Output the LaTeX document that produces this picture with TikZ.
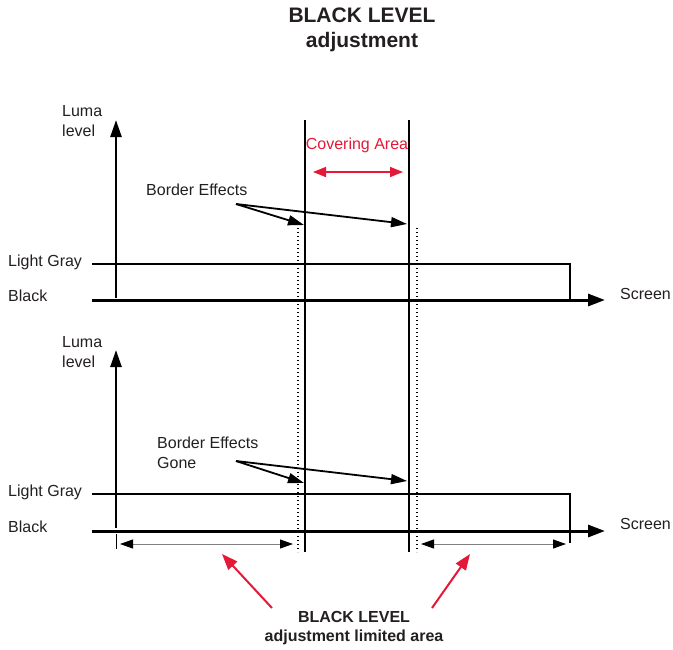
\documentclass[tikz,border=0pt]{standalone}
\usepackage{fontspec}
\setmainfont{Liberation Sans}
\usetikzlibrary{arrows.meta}
\definecolor{txt}{HTML}{231F20}
\definecolor{redc}{HTML}{E31937}
\begin{document}
\begin{tikzpicture}[x=1pt,y=-1pt,
  lbl/.style={font=\fontsize{16}{20}\selectfont, text=txt, inner sep=0pt, anchor=west, align=left},
  ttl/.style={font=\fontsize{21}{25}\selectfont\bfseries, text=txt, inner sep=0pt, align=center},
  btxt/.style={font=\fontsize{16}{19}\selectfont\bfseries, text=txt, inner sep=0pt, align=center},
  haxis/.style={line width=3pt, -{Triangle[length=17pt,width=12pt]}},
  vaxis/.style={line width=2.5pt, -{Triangle[length=17pt,width=11pt]}},
  gline/.style={line width=1.8pt},
  vline/.style={line width=1.3pt},
  dline/.style={line width=1.1pt, dash pattern=on 1.2pt off 2.8pt},
  ptr/.style={line width=1.8pt, -{Triangle[length=16pt,width=10pt]}},
  rng/.style={line width=1pt, draw=gray, {Triangle[length=13pt,width=9pt,color=black]}-{Triangle[length=13pt,width=9pt,color=black]}},
  redptr/.style={line width=2pt, draw=redc, -{Triangle[length=16pt,width=12pt]}},
  reddbl/.style={line width=1.5pt, draw=redc, {Triangle[length=13pt,width=10pt]}-{Triangle[length=13pt,width=10pt]}},
]
\useasboundingbox (0,0) rectangle (673,649);

% Title
\node[ttl] (title) at (362,30) {BLACK LEVEL\\adjustment};

% ---------- top diagram ----------
\coordinate (tA0) at (92,300);
\coordinate (tA1) at (605,300);
\coordinate (tY0) at (116,298);
\coordinate (tY1) at (116,120);
\coordinate (tG0) at (92,264);
\coordinate (tG1) at (570,264);
\coordinate (tG2) at (570,300);

\node[lbl] (tluma) at (62,121) {Luma\\level};
\node[lbl] (tgray) at (8,262) {Light Gray};
\node[lbl] (tblack) at (8,296) {Black};
\node[lbl] (tscreen) at (620,294) {Screen};

\draw[gline] (tG0) -- (tG1) -- (tG2);
\draw[haxis] (tA0) -- (tA1);
\draw[vaxis] (tY0) -- (tY1);

% vertical lines through both diagrams
\coordinate (vL0) at (305,120); \coordinate (vL1) at (305,552);
\coordinate (vR0) at (409,120); \coordinate (vR1) at (409,552);
\coordinate (dL0) at (298,228); \coordinate (dL1) at (298,552);
\coordinate (dR0) at (417,228); \coordinate (dR1) at (417,552);
\draw[vline] (vL0) -- (vL1);
\draw[vline] (vR0) -- (vR1);
\draw[dline] (dL0) -- (dL1);
\draw[dline] (dR0) -- (dR1);

% covering area
\node[lbl, anchor=center, text=redc] (cover) at (357,145) {Covering Area};
\coordinate (cA0) at (313,172); \coordinate (cA1) at (403,172);
\draw[reddbl] (cA0) -- (cA1);

% border effects
\node[lbl] (be1) at (146,190) {Border Effects};
\coordinate (be1s) at (236,204);
\coordinate (be1a) at (304,225);
\coordinate (be1b) at (407,224);
\draw[ptr] (be1s) -- (be1a);
\draw[ptr] (be1s) -- (be1b);

% ---------- bottom diagram ----------
\coordinate (bA0) at (92,531);
\coordinate (bA1) at (605,531);
\coordinate (bY0) at (116,528);
\coordinate (bY1) at (116,350);
\coordinate (bG0) at (92,494);
\coordinate (bG1) at (570,494);
\coordinate (bG2) at (570,543);

\node[lbl] (bluma) at (62,352) {Luma\\level};
\node[lbl] (bgray) at (8,492) {Light Gray};
\node[lbl] (bblack) at (8,527) {Black};
\node[lbl] (bscreen) at (620,524) {Screen};

\draw[gline] (bG0) -- (bG1) -- (bG2);
\draw[haxis] (bA0) -- (bA1);
\draw[vaxis] (bY0) -- (bY1);

\coordinate (tk0) at (116,534); \coordinate (tk1) at (116,549);
\draw[line width=1pt] (tk0) -- (tk1);

% range arrows
\coordinate (rL0) at (120,544); \coordinate (rL1) at (293,544);
\coordinate (rR0) at (421,544); \coordinate (rR1) at (566,544);
\draw[rng] (rL0) -- (rL1);
\draw[rng] (rR0) -- (rR1);

% border effects gone
\node[lbl] (be2) at (157,453) {Border Effects\\Gone};
\coordinate (be2s) at (236,461);
\coordinate (be2a) at (304,483);
\coordinate (be2b) at (407,481);
\draw[ptr] (be2s) -- (be2a);
\draw[ptr] (be2s) -- (be2b);

% bottom label and red arrows
\node[btxt] (blabel) at (354,628) {BLACK LEVEL\\adjustment limited area};
\coordinate (rdL0) at (272,608); \coordinate (rdL1) at (222,554);
\coordinate (rdR0) at (432,608); \coordinate (rdR1) at (470,554);
\draw[redptr] (rdL0) -- (rdL1);
\draw[redptr] (rdR0) -- (rdR1);
\end{tikzpicture}
\end{document}
